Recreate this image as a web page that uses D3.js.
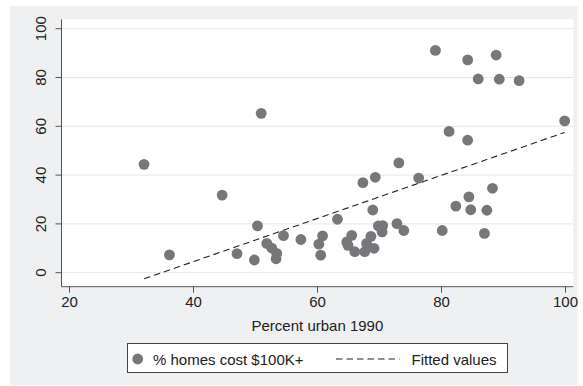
<!DOCTYPE html>
<html><head><meta charset="utf-8">
<script src="https://cdn.jsdelivr.net/npm/d3@7/dist/d3.min.js"></script>
<style>body{margin:0;background:#fff;} svg{display:block;font-family:"Liberation Sans",Arial,sans-serif;}</style>
</head><body>
<svg id="c" width="583" height="386"></svg>
<script>
const urban = [32.1,36.2,44.7,47.1,49.9,50.4,51.0,51.9,52.7,53.5,53.4,54.6,57.4,60.3,60.9,60.6,63.3,64.8,65.0,65.6,66.1,67.7,68.0,68.7,69.2,69.0,67.4,69.4,69.9,70.6,70.5,72.9,74.0,73.2,76.4,79.1,80.2,81.3,82.4,84.3,84.3,84.5,84.8,86.0,87.0,87.4,88.3,88.9,89.4,92.6,99.95];
const homes = [44.4,7.3,31.8,7.8,5.2,19.2,65.3,12.0,10.1,7.9,5.7,15.2,13.6,11.7,15.1,7.2,21.9,12.6,11.2,15.3,8.6,8.6,12.0,14.9,10.0,25.7,36.9,39.1,19.2,19.3,16.7,20.1,17.3,45.0,38.8,91.1,17.3,57.9,27.3,87.2,54.3,31.1,25.8,79.4,16.1,25.6,34.6,89.2,79.3,78.7,62.2];
const fitX = [32.1, 99.95];
const fitY = [-2.5, 57.5];
const xTicks = [20,40,60,80,100];
const yTicks = [0,20,40,60,80,100];
const xTitle = "Percent urban 1990";
const legendLabels = ["% homes cost $100K+", "Fitted values"];

const svg = d3.select("#c");
const plot = {l:61.5, t:19.3, r:573.3, b:286.7};
const x = d3.scaleLinear().domain([20,100]).range([69,565]);
const y = d3.scaleLinear().domain([0,100]).range([272.7,28.7]);
const markerCol = "#77777b";

svg.append("rect").attr("x",10).attr("y",6).attr("width",568).attr("height",379).attr("fill","#eef0f2");
svg.append("rect").attr("x",plot.l).attr("y",plot.t).attr("width",plot.r-plot.l).attr("height",plot.b-plot.t).attr("fill","#fff");

// gridlines
svg.append("g").selectAll("line").data(yTicks).join("line")
  .attr("x1",plot.l).attr("x2",plot.r).attr("y1",d=>y(d)).attr("y2",d=>y(d))
  .attr("stroke","#e6e6e6").attr("stroke-width",1);

// axes
const yAxis = d3.axisLeft(y).tickValues(yTicks).tickSize(6).tickPadding(3);
const gy = svg.append("g").attr("transform",`translate(${plot.l},0)`).call(yAxis);
gy.select(".domain").attr("d",`M0,${plot.t}V${plot.b}`).attr("stroke","#555");
gy.selectAll(".tick line").attr("stroke","#555");
gy.selectAll(".tick text").attr("font-size",15).attr("fill","#222").attr("font-family","Liberation Sans, Arial")
  .attr("transform",function(){return "";})
  .each(function(d){
    d3.select(this).attr("x",null).attr("dy",null)
      .attr("transform",`translate(-16,${y(d)}) rotate(-90)`)
      .attr("text-anchor","middle").attr("y",0);
  });
gy.selectAll(".tick").attr("transform",d=>"translate(0,0)");
gy.selectAll(".tick line").attr("y1",d=>y(d)).attr("y2",d=>y(d));

const xAxis = d3.axisBottom(x).tickValues(xTicks).tickSize(6).tickPadding(4);
const gx = svg.append("g").attr("transform",`translate(0,${plot.b})`).call(xAxis);
gx.select(".domain").attr("d",`M${plot.l},0H${plot.r}`).attr("stroke","#555");
gx.selectAll(".tick line").attr("stroke","#555");
gx.selectAll(".tick text").attr("font-size",15).attr("fill","#222").attr("font-family","Liberation Sans, Arial");

svg.append("text").attr("x",(plot.l+plot.r)/2).attr("y",331).attr("text-anchor","middle")
  .attr("font-size",15).attr("fill","#222").text(xTitle);

// fitted line
svg.append("line").attr("x1",x(fitX[0])).attr("y1",y(fitY[0])).attr("x2",x(fitX[1])).attr("y2",y(fitY[1]))
  .attr("stroke","#222").attr("stroke-width",1.1).attr("stroke-dasharray","6.5,4");

// points
svg.append("g").selectAll("circle").data(urban.map((u,i)=>[u,homes[i]])).join("circle")
  .attr("cx",d=>x(d[0])).attr("cy",d=>y(d[1])).attr("r",5.4).attr("fill",markerCol);

// legend
const lg = svg.append("g");
lg.append("rect").attr("x",127.5).attr("y",343.5).attr("width",380).attr("height",29).attr("fill","#fff").attr("stroke","#444").attr("stroke-width",1);
lg.append("circle").attr("cx",137.7).attr("cy",359).attr("r",5.4).attr("fill",markerCol);
lg.append("text").attr("x",153).attr("y",364.5).attr("font-size",15).attr("fill","#222").text(legendLabels[0]);
lg.append("line").attr("x1",336).attr("x2",399.5).attr("y1",359).attr("y2",359).attr("stroke","#222").attr("stroke-width",1.1).attr("stroke-dasharray","6.5,4");
lg.append("text").attr("x",411.5).attr("y",364.5).attr("font-size",15).attr("fill","#222").text(legendLabels[1]);
</script>
</body></html>
